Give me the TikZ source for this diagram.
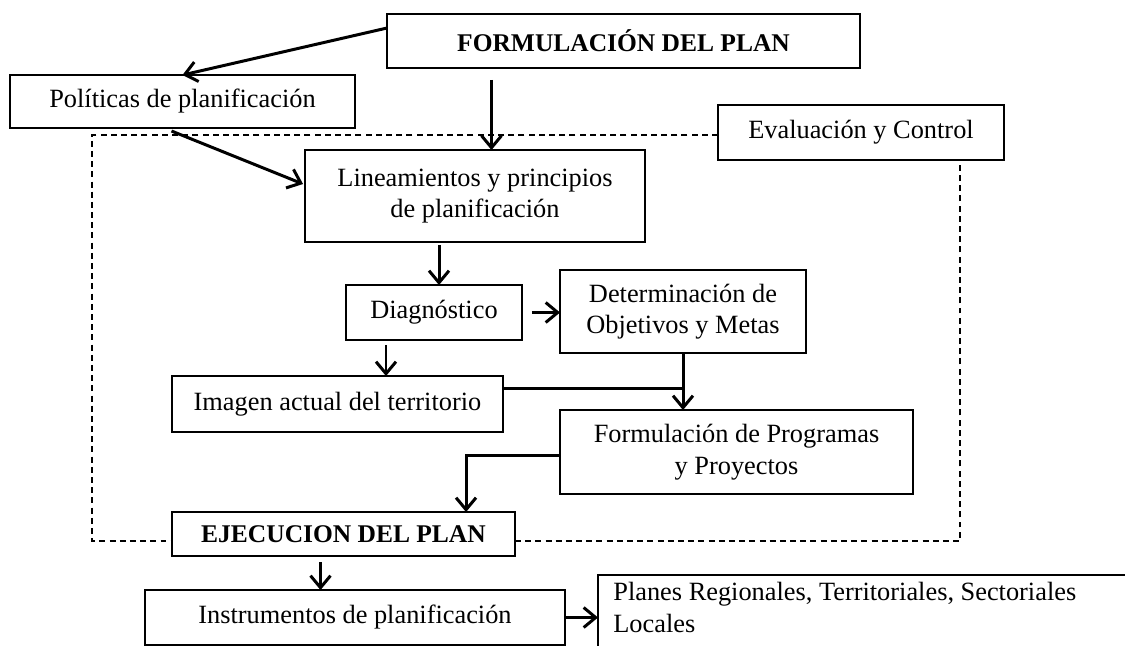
\documentclass[tikz,border=0pt]{standalone}
\usepackage{fontspec}
\setmainfont{Liberation Serif}
\usetikzlibrary{arrows.meta,calc}
\tikzset{
  box/.style={draw, line width=1.1pt, inner sep=0pt, outer sep=0pt, align=center, font=\fontsize{15}{18}\selectfont},
  arr/.style={line width=1.7pt, -{Straight Barb[length=2.4mm,width=4mm,line width=1.7pt]}},
  conn/.style={line width=1.7pt},
  dashframe/.style={line width=0.9pt, dash pattern=on 3.4pt off 2.4pt}
}
\begin{document}
\begin{tikzpicture}[x=0.02cm,y=-0.02cm]
\useasboundingbox (0,0) rectangle (1125,646);
% boxes
\node[box, minimum width=9.46cm, minimum height=1.08cm, font=\fontsize{14.5}{18}\selectfont\bfseries] (form) at (623.5,41) {FORMULACIÓN DEL PLAN};
\node[box, minimum width=6.9cm, minimum height=1.06cm] (pol) at (182.5,101.5) {Políticas de planificación};
\node[box, minimum width=5.72cm, minimum height=1.1cm] (eval) at (861,132.5) {Evaluación y Control};
\node[box, minimum width=6.8cm, minimum height=1.84cm] (lin) at (475,196) {Lineamientos y principios\\de planificación};
\node[box, minimum width=3.52cm, minimum height=1.1cm] (diag) at (434,312.5) {Diagnóstico};
\node[box, minimum width=4.92cm, minimum height=1.66cm] (det) at (683,311.5) {Determinación de\\Objetivos y Metas};
\node[box, minimum width=6.62cm, minimum height=1.12cm] (img) at (337.5,404) {Imagen actual del territorio};
\node[box, minimum width=7.06cm, minimum height=1.68cm] (fpp) at (736.5,452) {Formulación de Programas\\y Proyectos};
\node[box, minimum width=6.86cm, minimum height=0.88cm, font=\fontsize{14.5}{18}\selectfont\bfseries] (eje) at (343.5,534) {EJECUCION DEL PLAN};
\node[box, minimum width=8.4cm, minimum height=1.1cm] (ins) at (355,617.5) {Instrumentos de planificación};
\node[inner sep=0pt, outer sep=0pt, anchor=north west, minimum width=10.54cm, minimum height=1.42cm] (planes) at (598,575) {};
\draw[line width=1.1pt] (planes.south west) -- (planes.north west) -- (planes.north east);
\node[inner sep=0pt, anchor=north west, align=left, font=\fontsize{15}{18}\selectfont] (planestxt) at (613,582) {Planes Regionales, Territoriales, Sectoriales\\Locales};
% dashed frame
\coordinate (dtl) at (92,135);
\coordinate (dbr) at (960,541);
\coordinate (dbl) at (92,541);
\draw[dashframe] (dtl -| eval.west) -- (dtl) -- (dbl) -- (dbl -| eje.west);
\draw[dashframe] (dbr -| eje.east) -- (dbr) -- (dbr |- eval.south);
% arrows
\draw[arr] ($(form.north west)+(0,14)$) -- (pol.north);
\draw[arr] ($(form.south)+(-132,12)$) coordinate (a2) -- (a2 |- lin.north);
\draw[arr] ($(pol.south)+(-11,3)$) -- ($(lin.west)+(-2,-12)$);
\draw[arr] ($(lin.south)+(-36,3)$) coordinate (a4) -- (a4 |- diag.north);
\draw[arr] ($(diag.east)+(10,0)$) coordinate (a5) -- (a5 -| det.west);
\draw[arr] ($(diag.south)+(-48,5)$) coordinate (a6) -- (a6 |- img.north);
\draw[conn] ($(img.north east)+(0,12)$) coordinate (a7) -- (a7 -| det.south);
\draw[arr] (det.south) -- (det.south |- fpp.north);
\draw[arr] ($(fpp.west)+(0,3)$) coordinate (a8) -- ($(a8)+(-94,0)$) coordinate (a8b) -- (a8b |- eje.north);
\draw[arr] ($(eje.south)+(-23,6)$) coordinate (a9) -- (a9 |- ins.north);
\draw[arr] (ins.east) -- (ins.east -| planes.west);
\end{tikzpicture}
\end{document}
